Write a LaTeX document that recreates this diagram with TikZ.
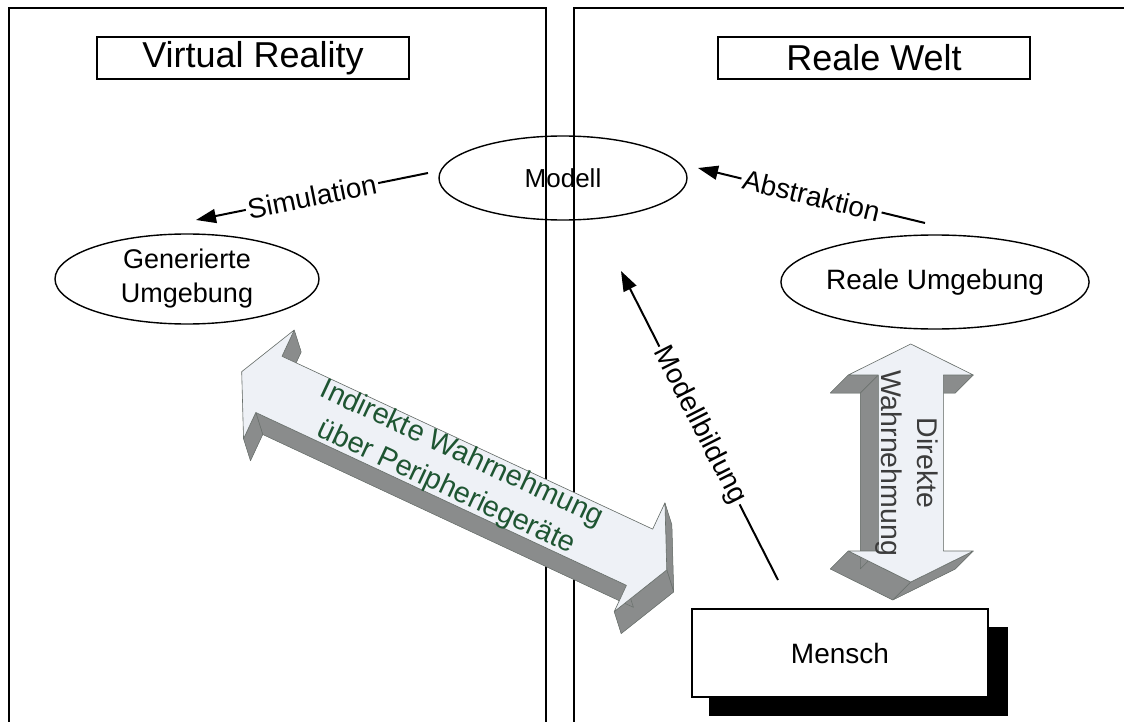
\documentclass[tikz,border=0pt]{standalone}
\usepackage{fontspec}
\setmainfont{Liberation Sans}
\usetikzlibrary{shapes.geometric,arrows.meta,calc}
\definecolor{facecol}{RGB}{238,241,246}
\definecolor{sidecol}{RGB}{138,140,140}
\definecolor{edgecol}{RGB}{105,112,108}
\definecolor{greentext}{RGB}{30,85,50}
\definecolor{graytext}{RGB}{60,60,60}
\tikzset{
  panel/.style={draw=black, line width=1.5pt},
  titlebox/.style={draw, line width=1.3pt, minimum width=312pt, minimum height=42pt, inner sep=0pt, font=\fontsize{36}{40}\selectfont},
  oval/.style={ellipse, draw, line width=1.4pt, inner sep=0pt, font=\fontsize{27}{34}\selectfont, align=center},
  conn/.style={line width=2pt, -{Triangle[length=20pt,width=14pt]}},
  lbl/.style={sloped, fill=white, inner sep=2pt, font=\fontsize{28}{34}\selectfont},
  sideface/.style={fill=sidecol, draw=edgecol, line width=0.5pt, line join=round},
  frontface/.style={fill=facecol, draw=edgecol, line width=0.6pt, line join=round},
}
% #1 name, #2 x, #3 y, #4 angle, #5 length, #6 head, #7 barb half width, #8 shaft half width
\newcommand\solidarrow[9]{%
  \begin{scope}[shift={(#2,#3)}, rotate=#4]
    \foreach \s/\t [count=\k from 0] in {0/0, #6/-#7, #6/-#8, #5-#6/-#8, #5-#6/-#7, #5/0, #5-#6/#7, #5-#6/#8, #6/#8, #6/#7} {
      \coordinate (#1P\k) at ({\s},{\t});
      \coordinate (#1Q\k) at ({\s+\dS},{\t+\dT});
    }
  \end{scope}
  \fill[sidecol] (#1Q0) \foreach \k in {1,...,9} { -- (#1Q\k) } -- cycle;
  \foreach \i/\j in {0/1, 2/3, 3/4, 6/7, 9/0} {
    \fill[sidecol] (#1P\i) -- (#1P\j) -- (#1Q\j) -- (#1Q\i) -- cycle;
  }
  \foreach \i/\j in {1/2, 4/5, 5/6, 7/8, 8/9} {
    \path[sideface] (#1P\i) -- (#1P\j) -- (#1Q\j) -- (#1Q\i) -- cycle;
  }
  \path[frontface] (#1P0) \foreach \k in {1,...,9} { -- (#1P\k) } -- cycle;
}
\begin{document}
\begin{tikzpicture}[x=1pt, y=-1pt]
\useasboundingbox (0,0) rectangle (1124,722);
\fill[white] (0,0) rectangle (1124,722);

% panels
\draw[panel] (9,730) -- (9,8) -- (546,8) -- (546,730);
\draw[panel] (574,730) -- (574,8) -- (1135,8);

% titles
\node[titlebox] (vr) at (253,58) {Virtual Reality};
\node[titlebox] (rw) at (874,58) {Reale Welt};

% ellipses
\node[oval, minimum width=248pt, minimum height=84pt, font=\fontsize{26}{32}\selectfont] (modell) at (563,178) {Modell};
\node[oval, minimum width=264pt, minimum height=90pt] (gen) at (187,279) {Generierte\\Umgebung};
\node[oval, minimum width=250pt, minimum height=94pt, font=\fontsize{28}{34}\selectfont] (real) at (935,282) {Reale Umgebung};

% Mensch with shadow
\fill[black] (709,627) rectangle (1008,716);
\node[draw, fill=white, line width=1.3pt, minimum width=296pt, minimum height=88pt, inner sep=0pt, font=\fontsize{28}{34}\selectfont] (mensch) at (840,653) {Mensch};

% connector end points
\coordinate (simS) at (428,173);
\coordinate (simE) at (196,220);
\coordinate (absS) at (925,223);
\coordinate (absE) at (698,168);
\coordinate (modS) at (778,580);
\coordinate (modE) at (621,271);

\draw[conn] (simS) -- node[lbl] {Simulation} (simE);
\draw[conn] (absS) -- node[lbl] {Abstraktion} (absE);
\draw[conn] (modS) -- node[lbl] {Modellbildung} (modE);

% 3D arrows
\def\dS{15.6}\def\dT{17}
\solidarrow{ind}{241.7}{371.7}{-25}{469}{30}{60}{31}{}
\node[rotate=-25, align=center, text=greentext, font=\fontsize{29}{37}\selectfont] (indtext) at (454,471) {Indirekte Wahrnehmung\\über Peripheriegeräte};

\def\dS{18}\def\dT{18}
\solidarrow{dir}{910.8}{344}{-90}{238}{31}{62.5}{32.5}{}
\node[rotate=-90, align=center, text=graytext, font=\fontsize{28.5}{36}\selectfont] (dirtext) at (907,463) {Direkte\\Wahrnehmung};
\end{tikzpicture}
\end{document}
